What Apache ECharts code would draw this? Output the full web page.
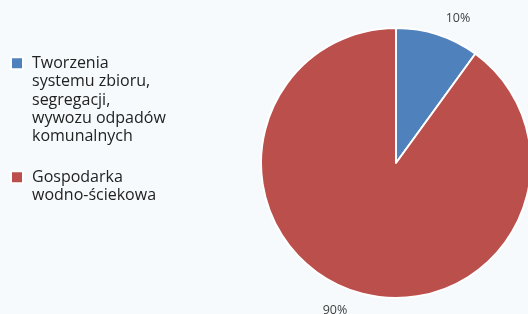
<!DOCTYPE html>
<html>
<head>
<meta charset="utf-8">
<script src="https://cdn.jsdelivr.net/npm/echarts@6/dist/echarts.min.js"></script>
<style>
  html, body { margin: 0; padding: 0; background: #f6fafd; }
  #chart { width: 528px; height: 314px; }
</style>
</head>
<body>
<div id="chart"></div>
<script>
// kategorie i udziały (%)
const categories = [
  'Tworzenia\nsystemu zbioru,\nsegregacji,\nwywozu odpadów\nkomunalnych',
  'Gospodarka\nwodno-ściekowa'
]
const values = [10, 90]
const colors = ['#4f81bd', '#bb4f4c']

// pozycje etykiet procentowych
const labelPos = [[458, 18], [335, 310]]

const LH = 18.3
const chart = echarts.init(document.getElementById('chart'))

chart.setOption({
  backgroundColor: '#f6fafd',
  animation: false,
  color: colors,
  legend: {
    orient: 'vertical',
    left: 10,
    top: -19,
    padding: 0,
    itemWidth: 12,
    itemHeight: 12,
    itemGap: 4,
    icon: 'rect',
    align: 'left',
    // puste linie nad tekstem, by kwadracik stał przy pierwszej linii
    formatter: name => '\n'.repeat(name.split('\n').length - 1) + name,
    textStyle: {
      fontFamily: 'Open Sans',
      fontSize: 16,
      lineHeight: LH,
      color: '#222',
      padding: [0, 0, 0, 4]
    },
    data: categories
  },
  series: [{
    type: 'pie',
    center: [396, 163],
    radius: 135,
    startAngle: 90,
    clockwise: true,
    itemStyle: {
      borderColor: '#fff',
      borderWidth: 2
    },
    label: {
      show: true,
      position: 'outside',
      formatter: '{c}%',
      fontFamily: 'Open Sans',
      fontSize: 12.5,
      color: '#404040'
    },
    labelLine: { show: false },
    labelLayout: function (p) {
      const pos = labelPos[p.dataIndex]
      return { x: pos[0], y: pos[1], align: 'center', verticalAlign: 'middle' }
    },
    emphasis: { disabled: true },
    data: categories.map((c, i) => ({ name: c, value: values[i] }))
  }]
})
</script>
</body>
</html>
